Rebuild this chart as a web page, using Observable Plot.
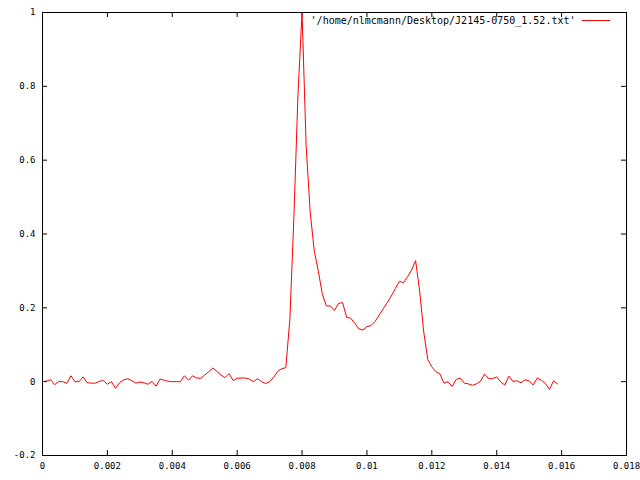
<!DOCTYPE html>
<html><head><meta charset="utf-8">
<script src="https://cdn.jsdelivr.net/npm/d3@7"></script>
<script src="https://cdn.jsdelivr.net/npm/@observablehq/plot@0.6"></script>
<style>html,body{margin:0;padding:0;background:#fff} svg{display:block}</style>
</head><body><div id="chart"></div>
<script>
// Pulse phase time (ms), 128 bins
const timeMs = [
  0, 0.125, 0.25, 0.375, 0.5, 0.625, 0.75, 0.875,
  1, 1.125, 1.25, 1.375, 1.5, 1.625, 1.75, 1.875,
  2, 2.125, 2.25, 2.375, 2.5, 2.625, 2.75, 2.875,
  3, 3.125, 3.25, 3.375, 3.5, 3.625, 3.75, 3.875,
  4, 4.125, 4.25, 4.375, 4.5, 4.625, 4.75, 4.875,
  5, 5.125, 5.25, 5.375, 5.5, 5.625, 5.75, 5.875,
  6, 6.125, 6.25, 6.375, 6.5, 6.625, 6.75, 6.875,
  7, 7.125, 7.25, 7.375, 7.5, 7.625, 7.75, 7.875,
  8, 8.125, 8.25, 8.375, 8.5, 8.625, 8.75, 8.875,
  9, 9.125, 9.25, 9.375, 9.5, 9.625, 9.75, 9.875,
  10, 10.125, 10.25, 10.375, 10.5, 10.625, 10.75, 10.875,
  11, 11.125, 11.25, 11.375, 11.5, 11.625, 11.75, 11.875,
  12, 12.125, 12.25, 12.375, 12.5, 12.625, 12.75, 12.875,
  13, 13.125, 13.25, 13.375, 13.5, 13.625, 13.75, 13.875,
  14, 14.125, 14.25, 14.375, 14.5, 14.625, 14.75, 14.875,
  15, 15.125, 15.25, 15.375, 15.5, 15.625, 15.75, 15.875
];
// Normalised intensity
const intensity = [
  0.000, 0.002, 0.005, -0.008, 0.000, 0.000, -0.005, 0.016,
  0.000, 0.000, 0.013, -0.003, -0.004, -0.004, 0.001, 0.003,
  -0.007, 0.000, -0.018, -0.003, 0.005, 0.008, 0.003, -0.004,
  -0.001, -0.003, -0.007, 0.001, -0.012, 0.007, 0.004, 0.001,
  0.000, 0.000, 0.000, 0.016, 0.004, 0.016, 0.010, 0.009,
  0.018, 0.027, 0.037, 0.028, 0.018, 0.011, 0.022, 0.003,
  0.009, 0.010, 0.010, 0.007, 0.000, 0.008, 0.000, -0.005,
  0.000, 0.012, 0.028, 0.035, 0.038, 0.17, 0.45, 0.78,
  1.0, 0.64, 0.46, 0.355, 0.30, 0.237, 0.205, 0.205,
  0.193, 0.212, 0.214, 0.174, 0.172, 0.158, 0.143, 0.140,
  0.149, 0.152, 0.163, 0.180, 0.197, 0.214, 0.232, 0.252,
  0.272, 0.268, 0.284, 0.302, 0.328, 0.245, 0.135, 0.060,
  0.040, 0.027, 0.021, -0.004, 0.000, -0.013, 0.006, 0.010,
  -0.004, -0.006, -0.010, -0.006, 0.001, 0.021, 0.008, 0.008,
  0.013, -0.001, -0.009, 0.015, 0.001, 0.002, -0.003, 0.005,
  0.002, -0.009, 0.010, 0.004, -0.005, -0.021, 0.002, -0.006
];
const xTicks = [0, 0.002, 0.004, 0.006, 0.008, 0.01, 0.012, 0.014, 0.016, 0.018];
const yTicks = [-0.2, 0, 0.2, 0.4, 0.6, 0.8, 1];
const seriesLabel = "'/home/nlmcmann/Desktop/J2145-0750_1.52.txt'";

const data = timeMs.map((t, i) => ({x: t / 1000, y: intensity[i]}));

const W = 640, H = 480, mL = 42, mR = 14, mT = 12, mB = 25;
const pw = W - mL - mR, ph = H - mT - mB, tick = 5;

const chart = Plot.plot({
  width: W, height: H,
  marginLeft: mL, marginRight: mR, marginTop: mT, marginBottom: mB,
  style: {fontFamily: "'DejaVu Sans Mono', monospace", fontSize: "10px", background: "#fff", color: "#000", overflow: "visible"},
  x: {domain: [0, 0.018], label: null},
  y: {domain: [-0.2, 1], label: null},
  marks: [
    Plot.axisX(xTicks, {tickSize: 0, tickPadding: 7, tickFormat: d => String(d), fontSize: 9, label: null}),
    Plot.axisY(yTicks, {tickSize: 0, tickPadding: 7, tickFormat: d => String(d), fontSize: 9, label: null}),
    Plot.tickX(xTicks, {x: d => d, insetTop: ph - tick, stroke: "#000"}),
    Plot.tickX(xTicks, {x: d => d, insetBottom: ph - tick, stroke: "#000"}),
    Plot.tickY(yTicks, {y: d => d, insetRight: pw - tick, stroke: "#000"}),
    Plot.tickY(yTicks, {y: d => d, insetLeft: pw - tick, stroke: "#000"}),
    Plot.line(data, {x: "x", y: "y", stroke: "#ff0000", strokeWidth: 1}),
    Plot.frame({stroke: "#000"}),
    Plot.text([seriesLabel], {frameAnchor: "top-right", text: d => d, dx: -51, dy: 8, textAnchor: "end", lineAnchor: "middle", fill: "#000"})
  ]
});

// legend swatch
d3.select(chart).append("line")
  .attr("x1", W - mR - 44).attr("x2", W - mR - 16)
  .attr("y1", mT + 8.5).attr("y2", mT + 8.5)
  .attr("stroke", "#ff0000").attr("stroke-width", 1);

document.getElementById("chart").appendChild(chart);
</script>
</body></html>
